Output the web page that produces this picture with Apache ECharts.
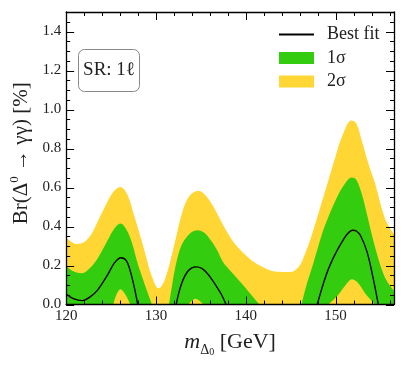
<!DOCTYPE html>
<html><head><meta charset="utf-8">
<script src="https://cdn.jsdelivr.net/npm/echarts@6/dist/echarts.min.js"></script>
<style>html,body{margin:0;padding:0;background:#fff}#c{width:407px;height:366px}</style>
</head><body><div id="c"></div>
<script>
// ---- data ----
const xMin = 120, xMax = 156.5;
const yMin = 0, yMax = 1.5;

// tick positions
const xMajorTicks = [120, 130, 140, 150];
const xMinorTicks = [122,124,126,128,132,134,136,138,142,144,146,148,152,154,156];
const yMajorTicks = [0.0, 0.2, 0.4, 0.6, 0.8, 1.0, 1.2, 1.4];
const yMinorTicks = [0.05,0.1,0.15,0.25,0.3,0.35,0.45,0.5,0.55,0.65,0.7,0.75,0.85,0.9,0.95,
                     1.05,1.1,1.15,1.25,1.3,1.35,1.45];

// upper edge of the 2 sigma band
const twoSigmaUpper = [
  [120,0.345],[120.5,0.325],[121.2,0.31],[122,0.32],[122.8,0.36],[123.5,0.424],
  [124.3,0.50],[125.2,0.575],[126.05,0.603],[126.8,0.565],[127.5,0.467],[128.2,0.36],
  [128.8,0.262],[129.5,0.15],[130.3,0.083],[131.0,0.13],[131.9,0.279],[133.0,0.484],
  [133.8,0.56],[134.76,0.583],[135.5,0.56],[136.3,0.509],[137.0,0.45],[137.8,0.381],
  [138.8,0.31],[140.0,0.253],[141.0,0.215],[142.2,0.185],[143.5,0.168],[145.0,0.167],
  [145.9,0.193],[146.6,0.26],[147.4,0.364],[148.3,0.50],[149.2,0.637],[150.0,0.76],
  [150.7,0.859],[151.75,0.944],[152.3,0.93],[152.9,0.842],[153.6,0.73],[154.4,0.62],
  [155.5,0.44],[156.5,0.36]
];

// upper edge of the 1 sigma band (null = below the axis)
const oneSigmaUpper = [
  [120,0.197],[120.8,0.17],[121.7,0.16],[122.6,0.185],[123.5,0.236],[124.4,0.31],
  [125.3,0.385],[126.05,0.415],[126.7,0.385],[127.3,0.32],[127.9,0.22],[128.45,0.142],
  [129.0,0.07],[129.55,0.0],[130.5,null],
  [131.45,0.0],[131.8,0.1],[132.25,0.211],[132.8,0.30],[133.4,0.345],[134.0,0.372],
  [134.6,0.381],[135.3,0.37],[135.95,0.339],[136.8,0.28],[137.5,0.215],[138.2,0.177],
  [139.6,0.105],[140.5,0.055],[141.5,0.0],[143.5,null],
  [146.2,0.0],[146.7,0.09],[147.4,0.193],[148.5,0.364],[149.2,0.45],[150.0,0.535],
  [150.9,0.61],[151.8,0.651],[152.3,0.64],[152.9,0.569],[153.5,0.46],[154.0,0.364],
  [154.6,0.26],[155.1,0.185],[155.7,0.12],[156.5,0.07]
];

// lower edge of the 1 sigma band (only where it is above zero)
const oneSigmaLower = [
  [125.25,0.0],[125.6,0.05],[126.05,0.078],[126.6,0.05],[127.15,0.0],[130,null],
  [133.6,0.0],[134.4,0.03],[135.3,0.0],[142,null],
  [149.2,0.0],[150.3,0.05],[151.2,0.105],[151.8,0.129],[152.5,0.11],[153.3,0.057],[154.4,0.0]
];

// best-fit curve (only where it is above zero)
const bestFit = [
  [120,0.054],[120.8,0.03],[121.8,0.02],[122.7,0.04],[123.5,0.074],[124.6,0.151],
  [125.4,0.215],[126.1,0.24],[126.7,0.225],[127.15,0.17],[127.6,0.085],[127.97,0.0],[130,null],
  [132.25,0.0],[132.6,0.07],[133.0,0.125],[133.5,0.168],[134.0,0.188],[134.5,0.193],
  [135.1,0.185],[135.6,0.165],[136.2,0.13],[136.7,0.095],[137.3,0.05],[137.8,0.0],[142,null],
  [147.95,0.0],[148.9,0.145],[149.6,0.225],[150.2,0.28],[150.7,0.32],[151.3,0.362],[151.9,0.381],
  [152.3,0.377],[152.75,0.355],[153.5,0.27],[154.2,0.13],[154.75,0.0]
];

const legendNames = ['Best fit', '1σ', '2σ'];

// ---- style ----
const YELLOW = '#FFD633';
const GREEN = '#33CC0F';
const FONT = 'Liberation Serif';
const MAJOR_LEN = 8, MINOR_LEN = 4;

function xAx(pos, labels) {
  return {
    type: 'value', position: pos, min: xMin, max: xMax, interval: 10, z: 10,
    axisLine: {show: true, onZero: false, lineStyle: {color: '#000', width: 1.3}},
    axisTick: {show: false},
    axisLabel: {show: labels, margin: 4, fontFamily: FONT, fontSize: 15, color: '#222',
                showMaxLabel: false},
    splitLine: {show: false}
  };
}
function yAx(pos, labels) {
  return {
    type: 'value', position: pos, min: yMin, max: yMax, interval: 0.2, z: 10,
    axisLine: {show: true, onZero: false, lineStyle: {color: '#000', width: 1.3}},
    axisTick: {show: false},
    axisLabel: {show: labels, margin: 5, fontFamily: FONT, fontSize: 15, color: '#222',
                showMaxLabel: false, formatter: v => v.toFixed(1)},
    splitLine: {show: false}
  };
}

const xAxes = [xAx('bottom', true), xAx('top', false)];
const yAxes = [yAx('left', true), yAx('right', false)];

xAxes[0].name = '{m|m}{s|Δ}{p|0}{n| [GeV]}';
xAxes[0].nameLocation = 'middle';
xAxes[0].nameGap = 23;
xAxes[0].nameTextStyle = {
  fontFamily: FONT, color: '#222',
  rich: {
    m: {fontFamily: FONT, fontSize: 22, fontStyle: 'italic', lineHeight: 30, verticalAlign: 'middle'},
    s: {fontFamily: FONT, fontSize: 14, lineHeight: 16, verticalAlign: 'bottom'},
    p: {fontFamily: FONT, fontSize: 10, lineHeight: 28, verticalAlign: 'bottom'},
    n: {fontFamily: FONT, fontSize: 22, lineHeight: 30, verticalAlign: 'middle'}
  }
};
yAxes[0].name = '{a|Br(Δ}{p|0}{a| → γγ) [%]}';
yAxes[0].nameLocation = 'middle';
yAxes[0].nameGap = 29;
yAxes[0].nameTextStyle = {
  fontFamily: FONT, color: '#222', padding: [0, 0, 0, 10],
  rich: {
    a: {fontFamily: FONT, fontSize: 21, lineHeight: 26, verticalAlign: 'middle'},
    p: {fontFamily: FONT, fontSize: 13, lineHeight: 14, verticalAlign: 'top'}
  }
};

function band(name, data, color, z) {
  return {
    name: name, type: 'line', data: data, xAxisIndex: 0, yAxisIndex: 0,
    smooth: 0.35, symbol: 'none', connectNulls: false, z: z, silent: true,
    itemStyle: {color: color},
    lineStyle: {width: 0, color: color},
    areaStyle: {color: color, opacity: 1}
  };
}

// tick marks drawn through the axis scale (inside, on all four sides)
function tickSeries(values, dim, len) {
  const data = values.map(v => dim === 'x' ? [v, yMin] : [xMin, v]);
  return {
    type: 'custom', xAxisIndex: 0, yAxisIndex: 0, z: 20, silent: true, clip: false,
    data: data,
    renderItem: function (params, api) {
      const cs = params.coordSys;
      const p = api.coord([api.value(0), api.value(1)]);
      const lines = [];
      if (dim === 'x') {
        const x = Math.round(p[0]) + 0.5;
        lines.push([x, cs.y + cs.height, x, cs.y + cs.height - len]);
        lines.push([x, cs.y, x, cs.y + len]);
      } else {
        const y = Math.round(p[1]) + 0.5;
        lines.push([cs.x, y, cs.x + len, y]);
        lines.push([cs.x + cs.width, y, cs.x + cs.width - len, y]);
      }
      return {
        type: 'group',
        children: lines.map(l => ({
          type: 'line', shape: {x1: l[0], y1: l[1], x2: l[2], y2: l[3]},
          style: {stroke: '#000', lineWidth: 1}
        }))
      };
    }
  };
}

const option = {
  animation: false,
  backgroundColor: '#fff',
  grid: {left: 66, right: 13, top: 12, bottom: 61.5, containLabel: false},
  xAxis: xAxes,
  yAxis: yAxes,
  legend: {
    orient: 'vertical', left: 278, top: 24.5, padding: 0,
    itemWidth: 35, itemHeight: 12, itemGap: 3.5,
    selectedMode: false, z: 12,
    textStyle: {fontFamily: FONT, fontSize: 18, lineHeight: 20, color: '#222', padding: [0, 0, 0, 8]},
    data: [
      {name: legendNames[0], itemStyle: {color: 'rgba(0,0,0,0)', borderWidth: 0, opacity: 0}},
      {name: legendNames[1], icon: 'rect'},
      {name: legendNames[2], icon: 'rect'}
    ]
  },
  graphic: [{
    type: 'group', left: 78, top: 49, z: 12,
    children: [
      {type: 'rect', shape: {x: 0, y: 0, width: 61, height: 42, r: 6},
       style: {fill: '#fff', stroke: '#888', lineWidth: 1}},
      {type: 'text', x: 30.5, y: 21,
       style: {text: 'SR: 1ℓ', font: '19px "Liberation Serif"', fill: '#222',
               align: 'center', verticalAlign: 'middle'}}
    ]
  }],
  series: [
    band(legendNames[2], twoSigmaUpper, YELLOW, 1),
    band(legendNames[1], oneSigmaUpper, GREEN, 2),
    band('lower', oneSigmaLower, YELLOW, 3),
    {
      name: legendNames[0], type: 'line', data: bestFit, xAxisIndex: 0, yAxisIndex: 0,
      smooth: 0.35, symbol: 'none', connectNulls: false, z: 5, silent: true,
      itemStyle: {color: '#000'},
      lineStyle: {width: 1.4, color: '#000'}
    },
    tickSeries(xMajorTicks, 'x', MAJOR_LEN),
    tickSeries(xMinorTicks, 'x', MINOR_LEN),
    tickSeries(yMajorTicks, 'y', MAJOR_LEN),
    tickSeries(yMinorTicks, 'y', MINOR_LEN)
  ]
};

const chart = echarts.init(document.getElementById('c'), null, {renderer: 'canvas'});
chart.setOption(option);
</script>
</body></html>
